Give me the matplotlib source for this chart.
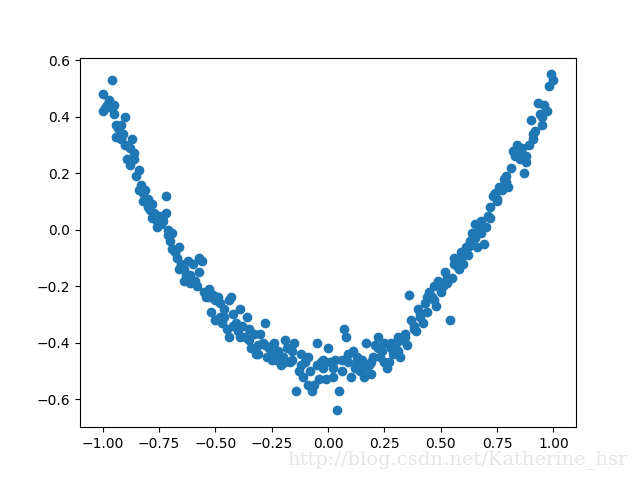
import matplotlib
matplotlib.use("Agg")
import matplotlib.pyplot as plt

# Points (left branch, bottom, right branch)
x_left = [-1.00, -1.00, -0.99, -0.98, -0.97, -0.97, -0.96, -0.96, -0.95, -0.95,
          -0.94, -0.94, -0.93, -0.92, -0.92, -0.91, -0.90, -0.90, -0.89, -0.88,
          -0.88, -0.87, -0.86, -0.85, -0.84, -0.84, -0.83, -0.82, -0.82, -0.81,
          -0.80, -0.79, -0.78, -0.78, -0.77, -0.76, -0.75, -0.74, -0.74, -0.73,
          -0.72, -0.72, -0.71, -0.71, -0.70, -0.69, -0.68, -0.67, -0.66, -0.66,
          -0.65, -0.64, -0.63, -0.62, -0.61, -0.60, -0.59, -0.58, -0.57, -0.56,
          -0.55, -0.54, -0.53, -0.52, -0.51, -0.50, -0.50, -0.49, -0.48, -0.47,
          -0.46, -0.45, -0.44, -0.44, -0.43, -0.42, -0.41, -0.40, -0.39, -0.38,
          -0.37, -0.36, -0.35, -0.34, -0.33, -0.32, -0.31, -0.30, -0.29, -0.28,
          -0.27, -0.26, -0.25, -0.24, -0.23, -0.22, -0.21, -0.20, -0.19, -0.18,
          -0.17, -0.16, -0.15, -0.14, -0.13, -0.12, -0.11, -0.10, -0.09, -0.08,
          -0.07, -0.06, -0.05, -0.04, -0.03, -0.02, -0.01]
y_left = [0.42, 0.48, 0.43, 0.44, 0.46, 0.45, 0.53, 0.43, 0.44, 0.41,
          0.37, 0.33, 0.33, 0.37, 0.32, 0.34, 0.40, 0.30, 0.25, 0.29,
          0.23, 0.32, 0.25, 0.19, 0.21, 0.14, 0.16, 0.13, 0.10, 0.14,
          0.08, 0.07, 0.09, 0.04, 0.06, 0.01, 0.05, 0.04, 0.02, 0.03,
          0.06, 0.12, 0.00, -0.02, -0.04, -0.01, -0.08, -0.10, -0.06, -0.14,
          -0.12, -0.14, -0.16, -0.11, -0.16, -0.12, -0.18, -0.20, -0.10, -0.11,
          -0.22, -0.24, -0.24, -0.29, -0.23, -0.25, -0.32, -0.24, -0.31, -0.33,
          -0.28, -0.35, -0.25, -0.38, -0.24, -0.30, -0.33, -0.36, -0.28, -0.34,
          -0.38, -0.31, -0.39, -0.42, -0.37, -0.44, -0.41, -0.37, -0.40, -0.33,
          -0.45, -0.42, -0.44, -0.40, -0.46, -0.43, -0.48, -0.45, -0.39, -0.42,
          -0.47, -0.46, -0.40, -0.57, -0.50, -0.44, -0.52, -0.47, -0.45, -0.50,
          -0.57, -0.55, -0.40, -0.53, -0.47, -0.49, -0.53]

x_right = [0.00, 0.01, 0.02, 0.03, 0.04, 0.05, 0.06, 0.07, 0.08, 0.09,
           0.10, 0.11, 0.12, 0.13, 0.14, 0.15, 0.16, 0.17, 0.18, 0.19,
           0.20, 0.21, 0.22, 0.23, 0.24, 0.25, 0.26, 0.27, 0.28, 0.29,
           0.30, 0.31, 0.32, 0.33, 0.34, 0.35, 0.36, 0.37, 0.38, 0.39,
           0.40, 0.41, 0.42, 0.43, 0.44, 0.45, 0.46, 0.47, 0.48, 0.49,
           0.50, 0.51, 0.52, 0.53, 0.54, 0.55, 0.56, 0.57, 0.58, 0.59,
           0.60, 0.61, 0.62, 0.63, 0.64, 0.65, 0.66, 0.67, 0.68, 0.69,
           0.70, 0.71, 0.72, 0.73, 0.74, 0.75, 0.76, 0.77, 0.78, 0.79,
           0.80, 0.81, 0.82, 0.83, 0.84, 0.85, 0.86, 0.87, 0.88, 0.89,
           0.90, 0.91, 0.92, 0.93, 0.94, 0.95, 0.96, 0.97, 0.98, 0.99,
           1.00]
y_right = [-0.42, -0.47, -0.52, -0.46, -0.64, -0.57, -0.50, -0.35, -0.38, -0.47,
           -0.52, -0.43, -0.49, -0.45, -0.50, -0.46, -0.52, -0.40, -0.48, -0.51,
           -0.45, -0.41, -0.38, -0.45, -0.43, -0.40, -0.49, -0.47, -0.42, -0.44,
           -0.40, -0.38, -0.45, -0.39, -0.37, -0.41, -0.23, -0.32, -0.35, -0.36,
           -0.28, -0.30, -0.33, -0.26, -0.29, -0.22, -0.24, -0.20, -0.27, -0.18,
           -0.22, -0.20, -0.15, -0.19, -0.32, -0.17, -0.10, -0.13, -0.14, -0.08,
           -0.12, -0.06, -0.09, -0.04, -0.01, 0.02, -0.06, 0.01, 0.03, -0.05,
           0.01, 0.05, 0.08, 0.12, 0.13, 0.10, 0.15, 0.14, 0.18, 0.19,
           0.15, 0.22, 0.28, 0.27, 0.30, 0.25, 0.29, 0.20, 0.26, 0.30,
           0.39, 0.32, 0.35, 0.45, 0.41, 0.37, 0.44, 0.42, 0.51, 0.55,
           0.53]

# extra points in the denser parts of the band
x_extra = [-0.93, -0.86, -0.80, -0.76, -0.73, -0.69, -0.64, -0.61, -0.57, -0.53,
           -0.48, -0.46, -0.42, -0.39, -0.35, -0.31, -0.28, -0.25, -0.22, -0.19,
           -0.16, -0.12, -0.09, -0.05, -0.02, 0.02, 0.06, 0.09, 0.13, 0.16,
           0.19, 0.22, 0.25, 0.28, 0.31, 0.34, 0.38, 0.41, 0.44, 0.47,
           0.50, 0.53, 0.56, 0.59, 0.62, 0.65, 0.68, 0.72, 0.75, 0.79,
           0.83, 0.85, 0.88, 0.91, 0.95]
y_extra = [0.36, 0.27, 0.11, 0.03, 0.05, -0.07, -0.18, -0.19, -0.15, -0.21,
           -0.26, -0.31, -0.34, -0.38, -0.35, -0.44, -0.41, -0.46, -0.44, -0.47,
           -0.43, -0.48, -0.55, -0.48, -0.46, -0.49, -0.46, -0.44, -0.47, -0.49,
           -0.47, -0.42, -0.47, -0.40, -0.43, -0.38, -0.34, -0.31, -0.24, -0.25,
           -0.19, -0.17, -0.12, -0.10, -0.06, -0.03, -0.01, 0.04, 0.11, 0.17,
           0.26, 0.28, 0.24, 0.34, 0.40]

x_data = x_left + x_right + x_extra
y_data = y_left + y_right + y_extra

fig, ax = plt.subplots(figsize=(6.4, 4.8), dpi=100)
ax.scatter(x_data, y_data)

# faint watermark in the bottom-right corner
fig.text(0.981, 0.022, "http://blog.csdn.net/Katherine_hsr", ha="right", va="bottom",
         color="#e6e6e6", fontsize=14, family="DejaVu Serif")

plt.savefig("out.png")
